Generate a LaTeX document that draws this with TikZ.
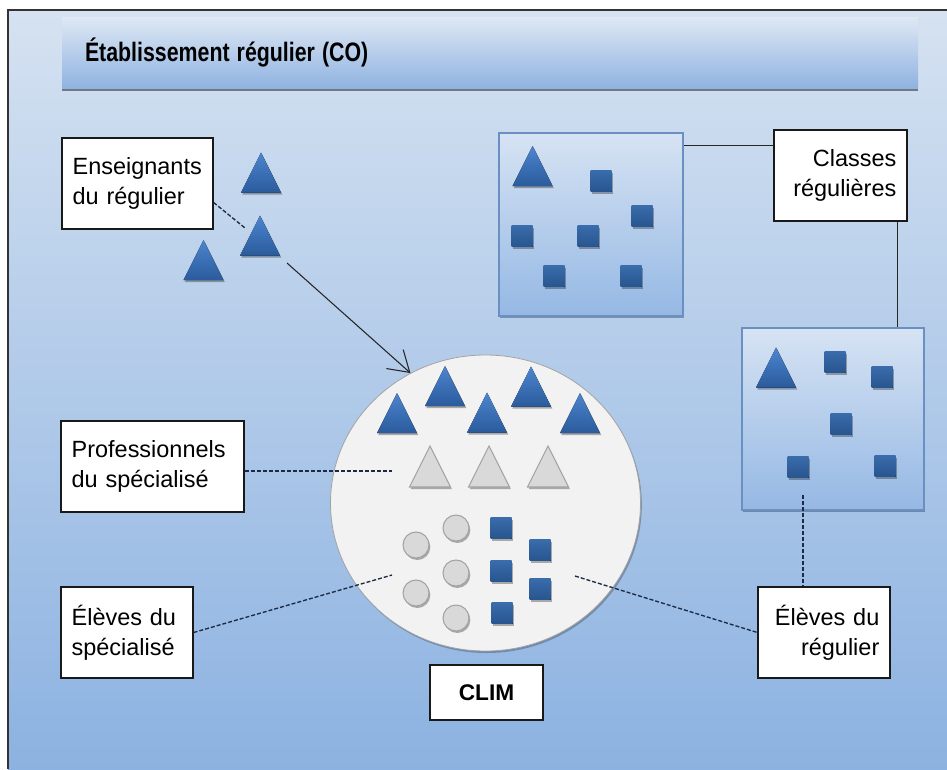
\documentclass[tikz,border=0pt]{standalone}
\usepackage{fontspec}
\setmainfont{Liberation Sans}
\usetikzlibrary{arrows.meta,shapes.geometric,shadows}

\definecolor{fondhaut}{HTML}{D5E2F1}
\definecolor{fondbas}{HTML}{8CB2E1}
\definecolor{barrehaut}{HTML}{DFE8F4}
\definecolor{barrebas}{HTML}{8FB3E1}
\definecolor{sallehaut}{HTML}{D6E3F3}
\definecolor{sallebas}{HTML}{95B8E4}
\definecolor{sallebord}{HTML}{6A8FC2}
\definecolor{bleuclair}{HTML}{4D85CF}
\definecolor{bleufonce}{HTML}{2A5B9C}
\definecolor{carrehaut}{HTML}{3A6CAB}
\definecolor{carrebas}{HTML}{27558F}
\definecolor{grisclair}{HTML}{D9D9D9}
\definecolor{grisbord}{HTML}{A3A3A3}
\definecolor{cerclefond}{HTML}{F2F2F2}
\definecolor{tiret}{HTML}{1C2A45}

\tikzset{
  ombre/.style={drop shadow={shadow xshift=1pt,shadow yshift=-1.5pt,opacity=.3,fill=black}},
  etiq/.style={draw=black!90, line width=0.9pt, fill=white, inner xsep=8pt, inner ysep=0pt,
    minimum height=68.25pt, font=\fontsize{17.6}{22.7}\selectfont},
  salle/.style={draw=sallebord, line width=0.8pt, top color=sallehaut, bottom color=sallebas, ombre},
  pointille/.style={draw=tiret, line width=1pt, dash pattern=on 3pt off 1.5pt},
  trait/.style={draw=black!85, line width=0.8pt},
  fleche/.style={draw=black!85, line width=0.8pt, -{Straight Barb[length=15pt,width=19pt]}},
  tribleu/.pic={\fill[top color=bleuclair, bottom color=bleufonce, ombre] (0,-20) -- (20,20) -- (-20,20) -- cycle;},
  trigris/.pic={\draw[fill=grisclair, draw=grisbord, line width=0.8pt, ombre] (0,-20.5) -- (20.5,20.5) -- (-20.5,20.5) -- cycle;},
  carre/.pic={\fill[top color=carrehaut, bottom color=carrebas, ombre] (-10.5,-10.5) rectangle (10.5,10.5);},
  rond/.pic={\draw[fill=grisclair, draw=grisbord, line width=0.8pt, ombre] (0,0) circle[radius=9.75pt];}
}

\begin{document}
\begin{tikzpicture}[x=0.75pt,y=-0.75pt]
\useasboundingbox (0,0) rectangle (947,769);
\fill[white] (0,0) rectangle (947,769);

% fond
\shade[top color=fondhaut, bottom color=fondbas] (8,10) rectangle (947,769);
\draw[black!80, line width=0.8pt] (8,769) -- (8,10) -- (947,10);

% titre
\node[top color=barrehaut, bottom color=barrebas,
  drop shadow={shadow xshift=0pt,shadow yshift=-2.5pt,opacity=.45,fill=black},
  minimum width=642pt, minimum height=53.25pt, inner xsep=17.25pt, text width=607.5pt,
  align=left, font=\bfseries\fontsize{20}{24}\selectfont] (titre) at (490,52.5)
  {\raisebox{2pt}{\scalebox{0.8}[1]{Établissement régulier (CO)}}};

% classes regulieres
\node[salle, minimum width=138pt, minimum height=137.25pt] (salleA) at (591,224.5) {};
\node[salle, minimum width=136.5pt, minimum height=136.5pt] (salleB) at (833,419) {};

% CLIM
\node[ellipse, fill=cerclefond, draw=grisbord, line width=0.6pt, inner sep=0pt,
  minimum width=232.5pt, minimum height=222pt,
  drop shadow={shadow xshift=1pt,shadow yshift=-1.5pt,opacity=.25,fill=black}] (cercle) at (485.5,503) {};

% enseignants
\foreach \x/\y in {261/172.5, 260/235.5, 203.5/260,
                   397/413, 445/386, 487/412.5, 531/386.5, 580/413,
                   532.5/166, 776/367.5}
  \pic at (\x,\y) {tribleu};
\foreach \x in {430,489,548}
  \pic at (\x,466.5) {trigris};

% eleves
\foreach \x/\y in {501/528, 540/550, 501/571, 540/589, 502/613,
                   601/181, 642/216, 522/236, 588/236, 554/276, 631/276,
                   835/362, 882/377, 841/424, 798/467, 885/466}
  \pic at (\x,\y) {carre};
\foreach \x/\y in {416/545, 456/528, 416/593, 456/573, 456/618}
  \pic at (\x,\y) {rond};

% etiquettes
\node[etiq, align=left, text width=97.25pt] (ens) at (137.5,183.5) {Enseignants\\du régulier};
\node[etiq, align=left, text width=121.25pt] (prof) at (152.5,466.5) {Professionnels\\du spécialisé};
\node[etiq, align=left, text width=83pt] (elspec) at (127,632.5) {Élèves du\\spécialisé};
\node[etiq, align=right, text width=83.75pt] (classes) at (840.5,175.5) {Classes\\régulières};
\node[etiq, align=right, text width=83pt] (elreg) at (824,632.5) {Élèves du\\régulier};
\node[etiq, minimum width=84.75pt, minimum height=41.25pt, font=\bfseries\fontsize{17}{20}\selectfont] (clim) at (486.5,692.5) {CLIM};

% liens
\coordinate (ensbout) at (245,228);
\coordinate (flechedep) at (287,263);
\coordinate (profbout) at (392,471);
\coordinate (elspecbout) at (392,575);
\coordinate (elregbout) at (575,576);
\coordinate (sallebbout) at (803,495);

\draw[pointille] (ens.-14.5) -- (ensbout);
\draw[fleche] (flechedep) -- (cercle.120);
\draw[pointille] (profbout -| prof.east) -- (profbout);
\draw[pointille] (elspec.east) -- (elspecbout);
\draw[pointille] (elregbout) -- (elreg.west);
\draw[pointille] (sallebbout) -- (sallebbout |- elreg.north);
\draw[trait] (classes.156) -- (classes.156 -| salleA.east);
\draw[trait] (classes.-39.3) -- (classes.-39.3 |- salleB.north);
\end{tikzpicture}
\end{document}
